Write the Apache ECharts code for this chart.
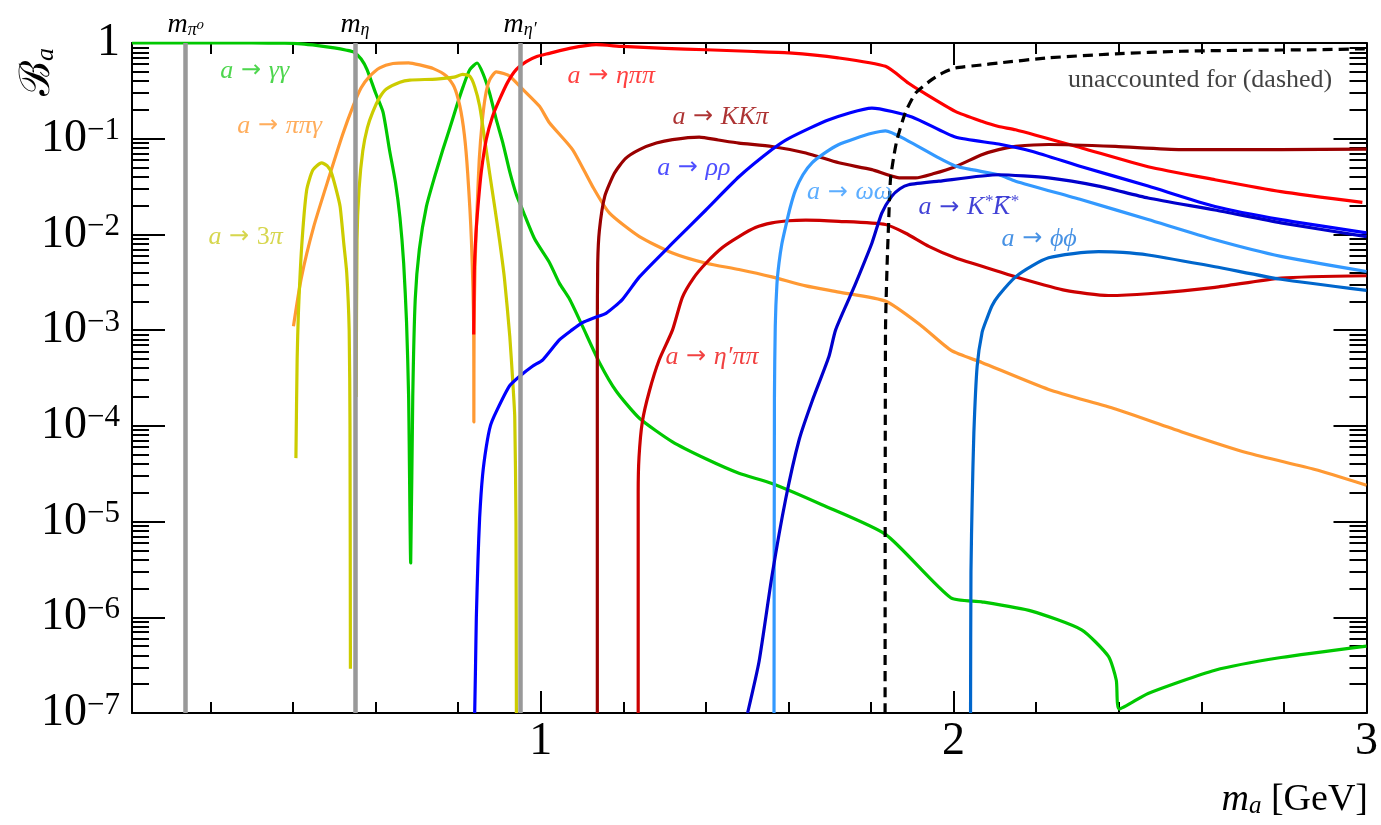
<!DOCTYPE html>
<html><head><meta charset="utf-8">
<script src="https://cdn.jsdelivr.net/npm/echarts@6/dist/echarts.min.js"></script>
<style>html,body{margin:0;padding:0;background:#fff}#c{width:1381px;height:825px}</style>
</head><body><div id="c"></div>
<script>
const FONT = '"Liberation Serif","DejaVu Serif",serif';

// ---- tick values ----
const xMajor = [1, 2, 3];
const xMinor = [0.2, 0.4, 0.6, 0.8, 1.2, 1.4, 1.6, 1.8, 2.2, 2.4, 2.6, 2.8];
const yMajor = [1e-7, 1e-6, 1e-5, 1e-4, 1e-3, 1e-2, 1e-1, 1];
const yMinor = [];
for (let d = -7; d < 0; d++) for (let k = 2; k <= 9; k++) yMinor.push(+(k * Math.pow(10, d)).toPrecision(3));

// ---- meson masses (gray lines) ----
const massValues = [0.135, 0.548, 0.947];
const massNames = ['π⁰', 'η', 'η′'];

// ---- branching ratio curves [m_a (GeV), B_a] ----
const gammaGamma = [[0.01,1],[0.30,1],[0.38,0.995],[0.42,0.98],[0.46,0.94],[0.50,0.89],[0.53,0.84],[0.548,0.80],[0.565,0.68],[0.579,0.53],[0.60,0.30],[0.618,0.19],[0.634,0.075],[0.648,0.035],[0.659,0.015],[0.668,5e-3],[0.675,1.2e-3],[0.680,2e-4],[0.685,3.7e-6],[0.690,2e-4],[0.696,2.1e-3],[0.706,7e-3],[0.723,0.0195],[0.743,0.04],[0.763,0.077],[0.780,0.13],[0.796,0.217],[0.812,0.35],[0.828,0.526],[0.846,0.618],[0.860,0.48],[0.876,0.30],[0.892,0.16],[0.908,0.091],[0.925,0.045],[0.941,0.026],[0.956,0.018],[0.985,0.009],[1.021,0.0051],[1.045,3.1e-3],[1.070,2.1e-3],[1.101,1.1e-3],[1.142,4.6e-4],[1.183,2.3e-4],[1.239,1.2e-4],[1.319,6.8e-5],[1.401,4.5e-5],[1.480,3.2e-5],[1.560,2.5e-5],[1.681,1.5e-5],[1.836,7.3e-6],[1.993,1.6e-6],[2.068,1.45e-6],[2.189,1.16e-6],[2.31,7.4e-7],[2.375,3.9e-7],[2.394,2.2e-7],[2.401,1.1e-7],[2.471,1.6e-7],[2.633,2.8e-7],[2.793,3.8e-7],[3.0,5.0e-7]];
const pipiGamma = [[0.401,1.1e-3],[0.42,3.5e-3],[0.45,0.012],[0.489,0.042],[0.52,0.11],[0.545,0.216],[0.565,0.34],[0.586,0.45],[0.61,0.55],[0.642,0.61],[0.68,0.62],[0.707,0.59],[0.74,0.54],[0.772,0.45],[0.79,0.35],[0.804,0.22],[0.815,0.11],[0.823,0.044],[0.832,8.8e-3],[0.8376,1e-3],[0.838,1.1e-4],[0.8385,1e-3],[0.841,5e-3],[0.846,0.0196],[0.851,0.06],[0.858,0.147],[0.866,0.28],[0.876,0.41],[0.892,0.50],[0.91,0.48],[0.925,0.45],[0.956,0.33],[0.997,0.218],[1.021,0.147],[1.077,0.077],[1.125,0.032],[1.166,0.0168],[1.239,9.5e-3],[1.319,6.4e-3],[1.401,5.0e-3],[1.480,4.3e-3],[1.560,3.6e-3],[1.642,2.9e-3],[1.722,2.5e-3],[1.836,2.0e-3],[1.923,1.1e-3],[1.995,6.1e-4],[2.068,4.6e-4],[2.23,2.4e-4],[2.392,1.5e-4],[2.551,8.7e-5],[2.713,5.2e-5],[2.875,3.5e-5],[3.0,2.4e-5]];
const threePiLow = [[0.407,4.6e-5],[0.410,5e-4],[0.413,1.5e-3],[0.421,7.5e-3],[0.433,0.029],[0.448,0.047],[0.469,0.056],[0.483,0.052],[0.493,0.044],[0.504,0.03],[0.514,0.0196],[0.523,8e-3],[0.53,4e-3],[0.536,1e-3],[0.538,1e-4],[0.539,2.9e-7]];
const threePiHigh = [[0.553,2e-4],[0.555,8.8e-3],[0.560,0.03],[0.569,0.075],[0.58,0.13],[0.593,0.19],[0.61,0.27],[0.626,0.33],[0.659,0.39],[0.683,0.41],[0.747,0.42],[0.79,0.44],[0.811,0.47],[0.828,0.45],[0.84,0.35],[0.852,0.22],[0.864,0.1],[0.876,0.044],[0.888,0.02],[0.900,8.8e-3],[0.912,3.5e-3],[0.925,8.6e-4],[0.932,3e-4],[0.937,1.25e-4],[0.940,1e-5],[0.941,1e-7]];
const etaPiPi = [[0.8376,9e-4],[0.839,4e-3],[0.843,0.01],[0.848,0.0196],[0.856,0.045],[0.868,0.098],[0.883,0.17],[0.900,0.256],[0.92,0.39],[0.941,0.53],[0.965,0.64],[0.989,0.72],[1.021,0.78],[1.07,0.88],[1.134,0.96],[1.198,0.92],[1.30,0.88],[1.400,0.85],[1.501,0.82],[1.601,0.79],[1.72,0.70],[1.835,0.57],[1.891,0.38],[1.923,0.31],[2.004,0.193],[2.068,0.152],[2.109,0.134],[2.15,0.124],[2.31,0.080],[2.471,0.051],[2.633,0.0373],[2.793,0.028],[2.99,0.0216]];
const kkPi = [[1.137,1e-7],[1.137,1e-3],[1.138,5e-3],[1.142,0.011],[1.155,0.025],[1.179,0.044],[1.205,0.062],[1.239,0.077],[1.28,0.09],[1.319,0.098],[1.384,0.104],[1.43,0.097],[1.480,0.090],[1.560,0.083],[1.642,0.071],[1.722,0.056],[1.802,0.0475],[1.868,0.039],[1.908,0.039],[1.95,0.043],[2.004,0.051],[2.068,0.068],[2.109,0.077],[2.15,0.083],[2.23,0.087],[2.392,0.083],[2.551,0.077],[2.793,0.077],[3.0,0.078]];
const etaPrimePiPi = [[1.236,1e-7],[1.236,2e-5],[1.238,4.7e-5],[1.246,1.1e-4],[1.263,2.3e-4],[1.287,4.9e-4],[1.319,1.0e-3],[1.343,2.2e-3],[1.370,3.5e-3],[1.400,5.0e-3],[1.44,7.3e-3],[1.480,9.5e-3],[1.520,0.0118],[1.560,0.0132],[1.600,0.0139],[1.642,0.0141],[1.722,0.0137],[1.835,0.0127],[1.884,0.0103],[1.94,7.5e-3],[2.004,5.7e-3],[2.109,4.1e-3],[2.150,3.6e-3],[2.271,2.6e-3],[2.375,2.3e-3],[2.471,2.4e-3],[2.633,2.8e-3],[2.793,3.5e-3],[3.0,3.7e-3]];
const rhoRho = [[0.840,1e-7],[0.842,3e-7],[0.844,1e-6],[0.848,4e-6],[0.852,1.1e-5],[0.859,3e-5],[0.868,6e-5],[0.878,1e-4],[0.892,1.4e-4],[0.924,2.6e-4],[0.949,3.3e-4],[0.980,4.2e-4],[1.005,4.9e-4],[1.045,7.9e-4],[1.075,1.0e-3],[1.101,1.2e-3],[1.13,1.35e-3],[1.158,1.5e-3],[1.198,2.1e-3],[1.239,3.6e-3],[1.319,8.1e-3],[1.400,0.018],[1.480,0.040],[1.560,0.077],[1.601,0.101],[1.698,0.158],[1.802,0.209],[1.899,0.169],[2.004,0.104],[2.109,0.088],[2.189,0.074],[2.310,0.051],[2.471,0.032],[2.633,0.0196],[2.793,0.0143],[3.0,0.0104]];
const omegaOmega = [[1.565,1e-7],[1.566,2e-4],[1.568,1.1e-3],[1.572,3e-3],[1.577,5e-3],[1.584,8e-3],[1.593,0.012],[1.604,0.019],[1.617,0.029],[1.635,0.042],[1.657,0.056],[1.69,0.072],[1.722,0.087],[1.76,0.10],[1.802,0.114],[1.835,0.121],[1.884,0.098],[1.964,0.063],[2.004,0.052],[2.044,0.0475],[2.109,0.042],[2.150,0.036],[2.310,0.023],[2.471,0.0143],[2.633,8.8e-3],[2.793,5.9e-3],[3.0,4.1e-3]];
const kstarKstar = [[1.501,1e-7],[1.529,3.5e-7],[1.560,2.7e-6],[1.593,1.7e-5],[1.626,7.2e-5],[1.657,1.8e-4],[1.698,5.3e-4],[1.714,1.0e-3],[1.746,2.1e-3],[1.763,3.1e-3],[1.802,8.1e-3],[1.826,0.0167],[1.850,0.025],[1.870,0.030],[1.891,0.033],[1.964,0.036],[2.109,0.042],[2.230,0.039],[2.351,0.032],[2.471,0.024],[2.633,0.018],[2.793,0.0132],[3.0,9.5e-3]];
const phiPhi = [[2.041,1e-7],[2.042,3e-6],[2.045,1.7e-5],[2.049,8.4e-5],[2.057,4.2e-4],[2.069,9.5e-4],[2.08,1.3e-3],[2.093,1.8e-3],[2.109,2.3e-3],[2.150,3.6e-3],[2.19,4.7e-3],[2.230,5.7e-3],[2.29,6.3e-3],[2.351,6.6e-3],[2.41,6.5e-3],[2.471,6.1e-3],[2.633,4.6e-3],[2.793,3.4e-3],[3.0,2.6e-3]];
const unaccounted = [[1.834,1e-7],[1.835,1e-3],[1.839,5e-3],[1.843,0.015],[1.847,0.0373],[1.855,0.065],[1.863,0.098],[1.883,0.187],[1.908,0.30],[1.947,0.414],[1.975,0.49],[2.004,0.548],[2.068,0.59],[2.109,0.618],[2.230,0.70],[2.392,0.77],[2.551,0.82],[2.713,0.84],[2.875,0.85],[3.0,0.87]];

const curves = [
  {data: gammaGamma, color: '#00c800'},
  {data: pipiGamma, color: '#ff9933'},
  {data: threePiLow, color: '#cccc00'},
  {data: threePiHigh, color: '#cccc00'},
  {data: etaPiPi, color: '#ff0000'},
  {data: kkPi, color: '#990000'},
  {data: etaPrimePiPi, color: '#cc0000'},
  {data: rhoRho, color: '#0000ff'},
  {data: omegaOmega, color: '#3399ff'},
  {data: kstarKstar, color: '#0000cc'},
  {data: phiPhi, color: '#0066cc'},
  {data: unaccounted, color: '#000000', dashed: true}
];

// ---- channel labels (anchored in data coordinates) ----
const channelLabels = [
  {text: '{i|a}{r| → }{i|γγ}', at: [0.224, 0.526], color: '#22cc22'},
  {text: '{i|a}{r| → }{i|ππγ}', at: [0.265, 0.140], color: '#ff9933'},
  {text: '{i|a}{r| → }{u|3}{i|π}', at: [0.195, 9.7e-3], color: '#cccc22'},
  {text: '{i|a}{r| → }{i|ηππ}', at: [1.065, 0.466], color: '#ff1111'},
  {text: '{i|a}{r| → }{i|KKπ}', at: [1.319, 0.174], color: '#990000'},
  {text: '{i|a}{r| → }{i|ρρ}', at: [1.282, 0.051], color: '#2222ff'},
  {text: '{i|a}{r| → }{i|ωω}', at: [1.645, 0.028], color: '#3399ff'},
  {text: '{i|a}{r| → }{i|K}{s|*}{i|K̅}{s|*}', at: [1.915, 0.0195], color: '#1111cc'},
  {text: '{i|a}{r| → }{i|ϕϕ}', at: [2.116, 9.2e-3], color: '#1a77dd'},
  {text: '{i|a}{r| → }{i|η′ππ}', at: [1.302, 5.4e-4], color: '#ee1111'},
  {text: '{u|unaccounted for (dashed)}', at: [2.917, 0.414], color: '#111111', right: true}
];

const tickStyle = {color: '#000', width: 2};
function xAxisDef(pos, major) {
  return {
    type: 'value', min: 0.01, max: 3, position: pos, gridIndex: 0,
    axisLine: {show: major, onZero: false, lineStyle: {color: '#000', width: 2}},
    axisTick: {show: true, inside: true, length: major ? 22 : 11, customValues: major ? xMajor : xMinor, lineStyle: tickStyle},
    axisLabel: (major && pos === 'bottom') ? {show: true, customValues: xMajor, fontSize: 46, fontFamily: FONT, color: '#000', margin: 6} : {show: false},
    splitLine: {show: false}
  };
}
function yAxisDef(pos, major) {
  return {
    type: 'log', logBase: 10, min: 1e-7, max: 1, position: pos, gridIndex: 0,
    axisLine: {show: major, onZero: false, lineStyle: {color: '#000', width: 2}},
    axisTick: {show: true, inside: true, length: major ? 33 : 17, customValues: major ? yMajor : yMinor, lineStyle: tickStyle},
    axisLabel: (major && pos === 'left') ? {
      show: true, customValues: yMajor, margin: 12,
      formatter: v => { const e = Math.round(Math.log10(v)); return e === 0 ? '{b|1}' : '{b|10}{e|−' + (-e) + '}'; },
      rich: {
        b: {fontSize: 46, fontFamily: FONT, color: '#000', lineHeight: 46, verticalAlign: 'bottom'},
        e: {fontSize: 31, fontFamily: FONT, color: '#000', lineHeight: 31, verticalAlign: 'top', padding: [0, 0, 24, 0]}
      }
    } : {show: false},
    splitLine: {show: false}, minorTick: {show: false}, minorSplitLine: {show: false}
  };
}

const series = curves.map(c => ({
  type: 'line', data: c.data, xAxisIndex: 0, yAxisIndex: 0,
  showSymbol: false, symbol: 'none', clip: true, z: 2,
  smooth: 0.2,
  lineStyle: {color: c.color, width: 3.2, type: c.dashed ? [10, 6] : 'solid', cap: 'butt', join: 'round'},
  itemStyle: {color: c.color}, emphasis: {disabled: true}
}));

series.push({
  type: 'line', data: [], xAxisIndex: 0, yAxisIndex: 0,
  markLine: {
    silent: true, symbol: ['none', 'none'], z: 5,
    lineStyle: {color: '#999999', width: 4.5, type: 'solid'},
    label: {
      show: true, position: 'end', distance: 4,
      rich: {
        m: {fontSize: 28, fontFamily: FONT, fontStyle: 'italic', color: '#000', lineHeight: 28, verticalAlign: 'top'},
        s: {fontSize: 18, fontFamily: FONT, fontStyle: 'italic', color: '#000', lineHeight: 18, verticalAlign: 'bottom', padding: [15, 0, 0, 0]}
      }
    },
    emphasis: {disabled: true},
    data: massValues.map((m, i) => ({xAxis: m, label: {formatter: '{m|m}{s|' + massNames[i] + '}'}}))
  }
});

series.push({
  type: 'scatter', xAxisIndex: 0, yAxisIndex: 0, symbolSize: 0, silent: true, z: 6,
  data: channelLabels.map(l => ({
    value: l.at,
    label: {
      show: true, position: l.right ? 'left' : 'right', distance: 0, formatter: l.text,
      rich: {
        i: {fontSize: 26, fontFamily: FONT, fontStyle: 'italic', color: l.color, lineHeight: 28, verticalAlign: 'bottom'},
        u: {fontSize: 26, fontFamily: FONT, color: l.color, lineHeight: 28, verticalAlign: 'bottom'},
        r: {fontSize: 24, fontFamily: '"DejaVu Sans", sans-serif', color: l.color, lineHeight: 28, verticalAlign: 'bottom', padding: [0, 0, 1, 0]},
        s: {fontSize: 17, fontFamily: FONT, fontStyle: 'italic', color: l.color, lineHeight: 17, verticalAlign: 'top'}
      }
    }
  }))
});

const chart = echarts.init(document.getElementById('c'), null, {renderer: 'canvas', width: 1381, height: 825});
chart.setOption({
  animation: false,
  backgroundColor: '#fff',
  grid: {left: 132, right: 12, top: 43, bottom: 112, containLabel: false},
  xAxis: [xAxisDef('bottom', true), xAxisDef('bottom', false), xAxisDef('top', true), xAxisDef('top', false)],
  yAxis: [yAxisDef('left', true), yAxisDef('left', false), yAxisDef('right', true), yAxisDef('right', false)],
  series: series,
  graphic: [
    {type: 'text', x: 1368, y: 800, style: {text: '{m|m}{a|a}{t| [GeV]}', align: 'right', verticalAlign: 'middle',
      rich: {
        m: {fontSize: 38, fontFamily: FONT, fontStyle: 'italic', fill: '#000', lineHeight: 38, verticalAlign: 'top'},
        a: {fontSize: 25, fontFamily: FONT, fontStyle: 'italic', fill: '#000', lineHeight: 25, verticalAlign: 'bottom', padding: [21, 0, 0, 0]},
        t: {fontSize: 38, fontFamily: FONT, fill: '#000', lineHeight: 38, verticalAlign: 'top'}
      }}},
    {type: 'text', x: 38, y: 72, rotation: Math.PI / 2, style: {text: '{B|ℬ}{a|a}', align: 'center', verticalAlign: 'middle',
      rich: {
        B: {fontSize: 42, fontFamily: FONT, fill: '#000', lineHeight: 42, verticalAlign: 'top'},
        a: {fontSize: 26, fontFamily: FONT, fontStyle: 'italic', fill: '#000', lineHeight: 26, verticalAlign: 'bottom', padding: [22, 0, 0, 0]}
      }}}
  ]
});
</script>
</body></html>
